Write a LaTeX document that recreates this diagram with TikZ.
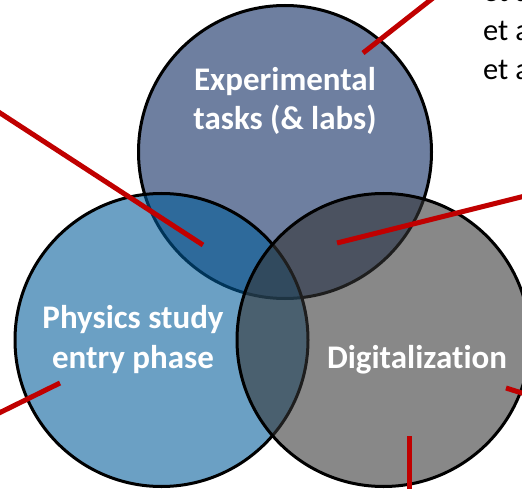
\documentclass[tikz,border=0pt]{standalone}
\usepackage{fontspec}
\setmainfont{Carlito}[Ligatures=NoCommon]
\begin{document}
\begin{tikzpicture}[x=1pt,y=-1pt,
  venn/.style={draw=black,line width=3pt},
  lbl/.style={text=white,font=\fontsize{33}{39}\selectfont\bfseries,anchor=base,inner sep=0pt},
  ref/.style={text=black,font=\fontsize{30.5}{38}\selectfont,anchor=base west,inner sep=0pt},
  pointer/.style={draw=redline,line width=5pt}]
\definecolor{topc}{RGB}{110,127,160}
\definecolor{leftc}{RGB}{0,91,153}
\definecolor{rightc}{RGB}{52,52,52}
\definecolor{redline}{RGB}{192,0,0}
\useasboundingbox (0,0) rectangle (522,489);
\clip (0,0) rectangle (522,489);
% circles
\path[venn,fill=topc] (285,152) circle[radius=146.5];
\path[venn,fill=leftc,fill opacity=0.58] (161.5,340) circle[radius=146.5];
\path[venn,fill=rightc,fill opacity=0.59] (383.5,340) circle[radius=146.5];
% labels
\node[lbl] (exp1) at (285,91) {Experimental};
\node[lbl] (exp2) at (285,130) {tasks (\& labs)};
\node[lbl] (phy1) at (133,328) {Physics study};
\node[lbl] (phy2) at (133,368) {entry phase};
\node[lbl] (dig) at (417,368) {Digitalization};
% references (cut by the edge)
\node[ref] (r0) at (483,2) {et a};
\node[ref] (r1) at (483,41) {et a};
\node[ref] (r2) at (483,80) {et a};
% pointer ends
\coordinate (a1) at (363,53);   \coordinate (b1) at (433,-2);
\coordinate (a2) at (203,245);  \coordinate (b2) at (-3,111);
\coordinate (a3) at (337,243);  \coordinate (b3) at (525,196);
\coordinate (a4) at (60,383);   \coordinate (b4) at (-3,414);
\coordinate (a5) at (506,388);  \coordinate (b5) at (525,394);
\coordinate (a6) at (409,436);  \coordinate (b6) at (409,492);
\draw[pointer] (a1) -- (b1);
\draw[pointer] (a2) -- (b2);
\draw[pointer] (a3) -- (b3);
\draw[pointer] (a4) -- (b4);
\draw[pointer] (a5) -- (b5);
\draw[pointer] (a6) -- (b6);
\end{tikzpicture}
\end{document}
